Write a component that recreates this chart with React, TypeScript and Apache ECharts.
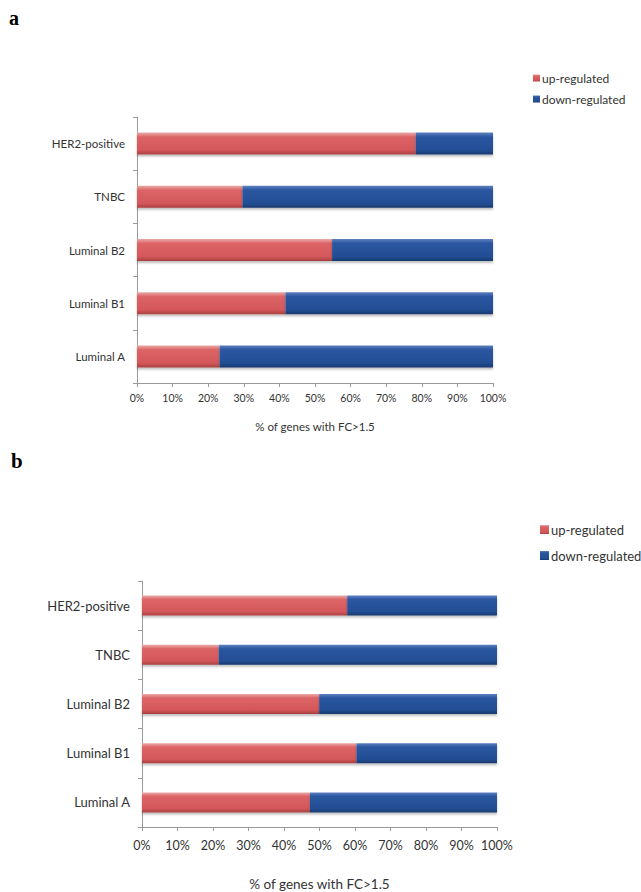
import React, { useEffect, useRef } from "react";
import * as echarts from "echarts";

const categories = ["Luminal A", "Luminal B1", "Luminal B2", "TNBC", "HER2-positive"];
const upA = [23.2, 41.7, 54.8, 29.6, 78.3];
const downA = [76.8, 58.3, 45.2, 70.4, 21.7];
const upB = [47.3, 60.4, 49.9, 21.6, 57.8];
const downB = [52.7, 39.6, 50.1, 78.4, 42.2];
const xTicks = [0, 10, 20, 30, 40, 50, 60, 70, 80, 90, 100];
const seriesNames = ["up-regulated", "down-regulated"];
const axisTitle = "% of genes with FC>1.5";

const redFill = new echarts.graphic.LinearGradient(0, 0, 0, 1, [
  { offset: 0, color: "#eaa9a8" },
  { offset: 0.2, color: "#dc6466" },
  { offset: 0.8, color: "#d4575a" },
  { offset: 1, color: "#a9403f" },
]);
const blueFill = new echarts.graphic.LinearGradient(0, 0, 0, 1, [
  { offset: 0, color: "#5d80bf" },
  { offset: 0.2, color: "#2a56a0" },
  { offset: 0.8, color: "#234e94" },
  { offset: 1, color: "#183a6e" },
]);

export default function App() {
  const ref = useRef<HTMLDivElement>(null);
  useEffect(() => {
    if (!ref.current) return;
    const chart = echarts.init(ref.current, null, { renderer: "svg" });
    const font = "Lato";
    const mkX = (idx: number, size: number, margin: number, gap: number) => ({
      type: "value",
      gridIndex: idx,
      min: xTicks[0],
      max: xTicks[xTicks.length - 1],
      interval: 10,
      axisLine: { show: true, lineStyle: { color: "#9a9a9a" } },
      axisTick: { show: true, length: 4, lineStyle: { color: "#9a9a9a" } },
      splitLine: { show: false },
      axisLabel: { formatter: "{value}%", color: "#333", fontFamily: font, fontSize: size, margin },
      name: axisTitle,
      nameLocation: "middle",
      nameGap: gap,
      nameTextStyle: { color: "#333", fontFamily: font, fontSize: size + 1 },
    });
    const mkY = (idx: number, size: number) => ({
      type: "category",
      gridIndex: idx,
      data: categories,
      axisLine: { show: true, lineStyle: { color: "#9a9a9a" } },
      axisTick: { show: true, length: 4, alignWithLabel: false, lineStyle: { color: "#9a9a9a" } },
      axisLabel: { color: "#333", fontFamily: font, fontSize: size, margin: 12 },
    });
    const barStyle = (fill: any) => ({
      color: fill,
      shadowColor: "rgba(0,0,0,0.25)",
      shadowBlur: 2,
      shadowOffsetY: 2,
    });
    const mkSeries = (idx: number, up: number[], down: number[], w: number) => [
      {
        name: seriesNames[0],
        type: "bar",
        stack: "s" + idx,
        xAxisIndex: idx,
        yAxisIndex: idx,
        data: up,
        barWidth: w,
        itemStyle: barStyle(redFill),
      },
      {
        name: seriesNames[1],
        type: "bar",
        stack: "s" + idx,
        xAxisIndex: idx,
        yAxisIndex: idx,
        data: down,
        barWidth: w,
        itemStyle: barStyle(blueFill),
      },
    ];
    chart.setOption({
      animation: false,
      backgroundColor: "#fff",
      grid: [
        { left: 137, width: 356, top: 117, height: 266 },
        { left: 142, width: 355, top: 581, height: 256 },
      ],
      xAxis: [mkX(0, 10.5, 9, 37), mkX(1, 12.5, 12, 50)],
      yAxis: [mkY(0, 11.5), mkY(1, 13)],
      legend: [
        {
          data: seriesNames,
          orient: "vertical",
          left: 528,
          top: 67,
          icon: "rect",
          itemWidth: 7,
          itemHeight: 7,
          itemGap: 9,
          textStyle: { fontFamily: font, fontSize: 12, color: "#333", padding: [0, 0, 0, -3] },
          selectedMode: false,
        },
        {
          data: seriesNames,
          orient: "vertical",
          left: 535,
          top: 518,
          icon: "rect",
          itemWidth: 9,
          itemHeight: 9,
          itemGap: 13,
          textStyle: { fontFamily: font, fontSize: 13, color: "#333", padding: [0, 0, 0, -3] },
          selectedMode: false,
        },
      ],
      graphic: [
        {
          type: "text",
          left: 9,
          top: 8,
          style: { text: "a", font: "bold 20px 'Liberation Serif'", fill: "#000" },
        },
        {
          type: "text",
          left: 11,
          top: 450,
          style: { text: "b", font: "bold 21px 'Liberation Serif'", fill: "#000" },
        },
      ],
      series: [...mkSeries(0, upA, downA, 22), ...mkSeries(1, upB, downB, 20)],
    });
    return () => chart.dispose();
  }, []);
  return (
    <div
      ref={ref}
      style={{ position: "fixed", left: 0, top: 0, width: 641, height: 892, background: "#fff" }}
    />
  );
}
